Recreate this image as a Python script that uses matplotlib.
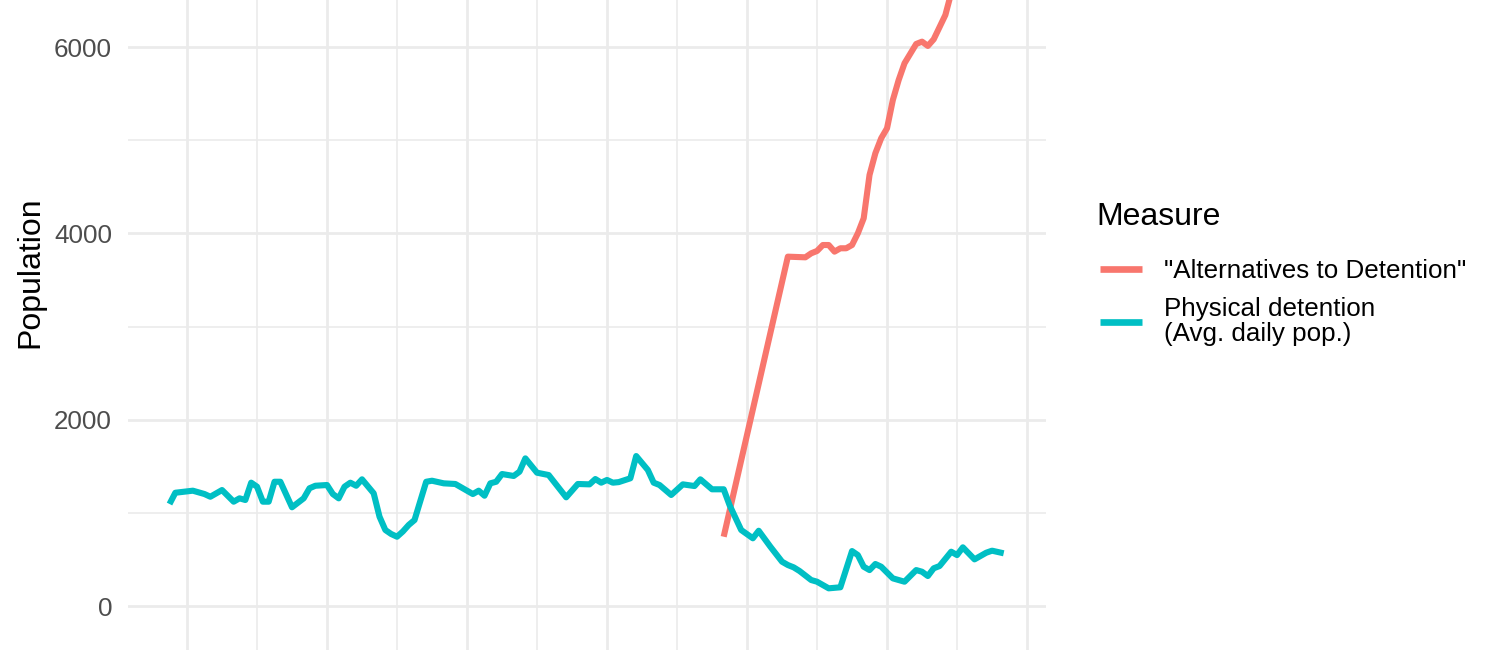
import matplotlib
matplotlib.use("Agg")
import matplotlib.pyplot as plt
from matplotlib.ticker import MultipleLocator

plt.rcParams["font.family"] = ["Liberation Sans", "DejaVu Sans"]

# monthly series, month 0 = October of the first fiscal year
start_year = 2011.75

detention_month = [0, 1, 4, 6, 7, 9, 11, 12, 13, 14, 15, 16, 17, 18, 19, 21, 23,
                   24, 25, 27, 28, 29, 30, 31, 32, 33, 35, 36, 37, 38, 39, 40, 41,
                   42, 44, 45, 47, 49, 52, 53, 54, 55, 56, 57, 59, 60, 61, 63, 65,
                   68, 70, 72, 73, 74, 75, 76, 77, 79, 80, 82, 83, 84, 86, 88, 90,
                   91, 93, 95, 96, 98, 100, 101, 103, 105, 106, 107, 108, 110, 111,
                   113, 115, 117, 118, 119, 120, 121, 122, 124, 126, 128, 129, 130,
                   131, 132, 134, 135, 136, 138, 140, 141, 143]
detention_pop = [1095, 1216, 1238, 1202, 1173, 1245, 1120, 1156, 1138, 1324, 1281,
                 1120, 1120, 1334, 1334, 1060, 1156, 1264, 1291, 1299, 1202, 1156,
                 1281, 1324, 1291, 1360, 1210, 959, 816, 773, 744, 800, 870, 923,
                 1334, 1345, 1317, 1310, 1202, 1238, 1184, 1317, 1334, 1417, 1396,
                 1442, 1585, 1431, 1406, 1167, 1310, 1306, 1363, 1324, 1353, 1324,
                 1330, 1371, 1610, 1460, 1324, 1299, 1192, 1306, 1288, 1360, 1253,
                 1253, 1084, 816, 727, 808, 637, 476, 440, 415, 376, 279, 261, 190,
                 201, 590, 547, 422, 386, 451, 422, 297, 261, 386, 368, 322, 405,
                 429, 583, 547, 630, 501, 572, 594, 566]

atd_month = [95, 106, 109, 110, 111, 112, 113, 114, 115, 116, 117, 118, 119, 120,
             121, 122, 123, 124, 125, 126, 128, 129, 130, 131, 133, 134, 135]
atd_pop = [744, 3750, 3743, 3786, 3811, 3875, 3875, 3804, 3840, 3840, 3875, 4001,
           4162, 4627, 4860, 5021, 5128, 5432, 5647, 5826, 6033, 6058, 6012, 6083,
           6344, 6580, 6800]

series_labels = ['"Alternatives to Detention"', "Physical detention\n(Avg. daily pop.)"]
series_colors = ["#F8766D", "#00BFC4"]

atd_x = [start_year + m / 12 for m in atd_month]
det_x = [start_year + m / 12 for m in detention_month]

fig = plt.figure(figsize=(15, 6.5), dpi=100)
ax = fig.add_axes([128 / 1500, 0, 918 / 1500, 1])

ax.plot(atd_x, atd_pop, color=series_colors[0], lw=4.4, label=series_labels[0],
        solid_capstyle="butt", solid_joinstyle="round")
ax.plot(det_x, detention_pop, color=series_colors[1], lw=4.4, label=series_labels[1],
        solid_capstyle="butt", solid_joinstyle="round")

ax.set_xlim(2011.157, 2024.271)
ax.set_ylim(-472, 6505)

ax.xaxis.set_major_locator(MultipleLocator(2))
ax.xaxis.set_minor_locator(MultipleLocator(1))
ax.yaxis.set_major_locator(MultipleLocator(2000))
ax.yaxis.set_minor_locator(MultipleLocator(1000))
ax.grid(which="major", color="#EBEBEB", lw=2.0)
ax.grid(which="minor", color="#EBEBEB", lw=1.2)
ax.set_axisbelow(True)
for s in ax.spines.values():
    s.set_visible(False)
ax.tick_params(which="both", length=0)
ax.tick_params(axis="x", labelbottom=False)
ax.tick_params(axis="y", labelsize=18.7, labelcolor="#4D4D4D", pad=11.5)

fig.text(30 / 1500, 1 - 272 / 650, "Population", rotation=90, ha="center",
         va="center", fontsize=23)

# legend title drawn on its own so the gap above the keys matches
fig.text(1096 / 1500, 1 - 225 / 650, "Measure", ha="left", va="baseline",
         fontsize=23)
leg = fig.legend(loc="upper left", bbox_to_anchor=(1100 / 1500, 1 - 259 / 650),
                 frameon=False, borderaxespad=0, borderpad=0,
                 fontsize=18.7, handlelength=1.6, handletextpad=0.85,
                 labelspacing=0.55)
for t in leg.get_texts():
    t.set_linespacing(1.05)
for h in leg.get_lines():
    h.set_linewidth(4.8)

fig.savefig("out.png", dpi=100)
